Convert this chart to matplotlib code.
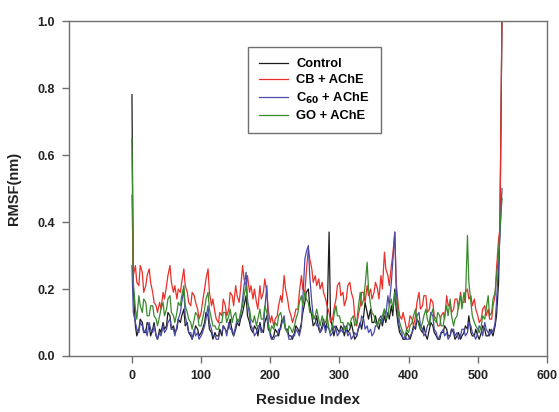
import numpy as np
import matplotlib
matplotlib.use("Agg")
import matplotlib.pyplot as plt

plt.rcParams['font.family'] = ['Liberation Sans', 'DejaVu Sans']

# residue numbers: 0, 2, 5, 7, 10, 12, ... 532, 535
residue = sorted(list(range(0, 540, 5)) + list(range(2, 535, 5)))

control = [0.78, 0.20, 0.09, 0.06, 0.08, 0.11, 0.10, 0.07, 0.07, 0.10,
           0.09, 0.06, 0.08, 0.10, 0.06, 0.05, 0.08, 0.07, 0.10, 0.08,
           0.09, 0.13, 0.12, 0.08, 0.09, 0.07, 0.08, 0.11, 0.10, 0.12,
           0.14, 0.09, 0.10, 0.07, 0.06, 0.05, 0.07, 0.09, 0.08, 0.06,
           0.07, 0.08, 0.10, 0.13, 0.12, 0.08, 0.07, 0.05, 0.07, 0.06,
           0.06, 0.08, 0.06, 0.09, 0.08, 0.07, 0.09, 0.11, 0.07, 0.06,
           0.08, 0.10, 0.09, 0.11, 0.13, 0.15, 0.18, 0.12, 0.10, 0.08,
           0.07, 0.09, 0.08, 0.06, 0.10, 0.08, 0.07, 0.10, 0.12, 0.08,
           0.07, 0.05, 0.06, 0.08, 0.07, 0.06, 0.09, 0.11, 0.10, 0.08,
           0.08, 0.06, 0.06, 0.05, 0.07, 0.09, 0.08, 0.07, 0.10, 0.13,
           0.16, 0.19, 0.20, 0.15, 0.12, 0.09, 0.10, 0.12, 0.08, 0.07,
           0.09, 0.11, 0.08, 0.10, 0.37, 0.12, 0.08, 0.06, 0.09, 0.08,
           0.07, 0.09, 0.08, 0.06, 0.09, 0.07, 0.08, 0.10, 0.07, 0.05,
           0.06, 0.08, 0.10, 0.08, 0.12, 0.16, 0.13, 0.11, 0.14, 0.10,
           0.10, 0.12, 0.09, 0.08, 0.11, 0.09, 0.12, 0.10, 0.13, 0.11,
           0.15, 0.12, 0.20, 0.14, 0.09, 0.07, 0.06, 0.05, 0.05, 0.07,
           0.06, 0.05, 0.07, 0.09, 0.08, 0.11, 0.10, 0.08, 0.07, 0.09,
           0.06, 0.05, 0.08, 0.10, 0.09, 0.07, 0.06, 0.05, 0.05, 0.07,
           0.07, 0.09, 0.08, 0.06, 0.06, 0.08, 0.07, 0.05, 0.06, 0.07,
           0.05, 0.06, 0.07, 0.09, 0.08, 0.12, 0.07, 0.06, 0.06, 0.08,
           0.06, 0.05, 0.07, 0.09, 0.08, 0.06, 0.06, 0.08, 0.07, 0.06,
           0.09, 0.12, 0.22, 0.40, 1.02]

cb_ache = [0.48, 0.24, 0.27, 0.22, 0.21, 0.27, 0.25, 0.19, 0.21, 0.24,
           0.26, 0.22, 0.19, 0.16, 0.15, 0.13, 0.16, 0.14, 0.19, 0.17,
           0.21, 0.24, 0.27, 0.22, 0.19, 0.21, 0.17, 0.20, 0.19, 0.22,
           0.26, 0.21, 0.19, 0.16, 0.15, 0.19, 0.18, 0.16, 0.14, 0.11,
           0.13, 0.16, 0.20, 0.23, 0.26, 0.19, 0.15, 0.17, 0.13, 0.11,
           0.10, 0.13, 0.12, 0.17, 0.15, 0.12, 0.14, 0.19, 0.18, 0.15,
           0.21, 0.18, 0.16, 0.20, 0.27, 0.23, 0.21, 0.24, 0.19, 0.21,
           0.17, 0.20, 0.16, 0.14, 0.21, 0.17, 0.19, 0.23, 0.19, 0.14,
           0.10, 0.12, 0.09, 0.11, 0.12, 0.15, 0.18, 0.16, 0.24, 0.20,
           0.17, 0.14, 0.12, 0.10, 0.12, 0.14, 0.14, 0.19, 0.24, 0.20,
           0.19, 0.25, 0.32, 0.29, 0.26, 0.22, 0.24, 0.21, 0.23, 0.20,
           0.22, 0.19, 0.17, 0.15, 0.13, 0.10, 0.11, 0.14, 0.17, 0.21,
           0.22, 0.18, 0.19, 0.15, 0.17, 0.21, 0.22, 0.19, 0.17, 0.12,
           0.09, 0.12, 0.15, 0.19, 0.19, 0.16, 0.21, 0.18, 0.20, 0.17,
           0.19, 0.22, 0.20, 0.17, 0.24, 0.20, 0.31, 0.26, 0.24, 0.21,
           0.27, 0.30, 0.37, 0.22, 0.15, 0.12, 0.11, 0.13, 0.10, 0.08,
           0.09, 0.12, 0.11, 0.09, 0.12, 0.16, 0.19, 0.14, 0.15, 0.18,
           0.18, 0.13, 0.14, 0.17, 0.16, 0.12, 0.11, 0.09, 0.09, 0.12,
           0.13, 0.11, 0.18, 0.15, 0.16, 0.13, 0.14, 0.17, 0.17, 0.14,
           0.19, 0.16, 0.16, 0.19, 0.20, 0.17, 0.18, 0.15, 0.17, 0.14,
           0.12, 0.10, 0.11, 0.14, 0.15, 0.12, 0.14, 0.11, 0.11, 0.15,
           0.18, 0.26, 0.35, 0.38, 1.05]

c60_ache = [0.27, 0.13, 0.10, 0.08, 0.07, 0.10, 0.09, 0.07, 0.08, 0.06,
            0.10, 0.08, 0.07, 0.09, 0.06, 0.05, 0.07, 0.06, 0.09, 0.07,
            0.08, 0.10, 0.11, 0.08, 0.08, 0.06, 0.09, 0.11, 0.13, 0.16,
            0.20, 0.12, 0.09, 0.07, 0.07, 0.05, 0.08, 0.06, 0.07, 0.05,
            0.06, 0.07, 0.09, 0.11, 0.15, 0.10, 0.08, 0.06, 0.06, 0.05,
            0.05, 0.07, 0.07, 0.09, 0.08, 0.06, 0.10, 0.08, 0.08, 0.06,
            0.09, 0.11, 0.10, 0.12, 0.17, 0.21, 0.25, 0.17, 0.12, 0.09,
            0.08, 0.06, 0.07, 0.09, 0.09, 0.07, 0.08, 0.14, 0.21, 0.10,
            0.06, 0.05, 0.05, 0.06, 0.06, 0.08, 0.08, 0.10, 0.12, 0.08,
            0.07, 0.05, 0.05, 0.06, 0.06, 0.08, 0.07, 0.06, 0.09, 0.17,
            0.29, 0.31, 0.33, 0.24, 0.16, 0.12, 0.11, 0.09, 0.09, 0.07,
            0.08, 0.10, 0.07, 0.09, 0.08, 0.06, 0.07, 0.09, 0.08, 0.06,
            0.07, 0.08, 0.07, 0.09, 0.08, 0.06, 0.07, 0.05, 0.06, 0.07,
            0.06, 0.08, 0.09, 0.12, 0.11, 0.08, 0.09, 0.07, 0.08, 0.06,
            0.07, 0.09, 0.09, 0.11, 0.12, 0.10, 0.14, 0.12, 0.18, 0.15,
            0.22, 0.28, 0.37, 0.20, 0.11, 0.08, 0.07, 0.05, 0.06, 0.05,
            0.05, 0.06, 0.07, 0.08, 0.09, 0.12, 0.13, 0.09, 0.08, 0.06,
            0.07, 0.09, 0.10, 0.13, 0.12, 0.08, 0.07, 0.05, 0.06, 0.07,
            0.08, 0.06, 0.07, 0.05, 0.06, 0.08, 0.08, 0.06, 0.07, 0.05,
            0.06, 0.08, 0.08, 0.06, 0.07, 0.10, 0.09, 0.07, 0.06, 0.05,
            0.07, 0.09, 0.08, 0.06, 0.10, 0.08, 0.07, 0.06, 0.08, 0.07,
            0.10, 0.16, 0.28, 0.36, 0.50]

go_ache = [0.65, 0.22, 0.14, 0.11, 0.18, 0.15, 0.13, 0.17, 0.16, 0.12,
           0.12, 0.15, 0.15, 0.12, 0.11, 0.09, 0.12, 0.14, 0.16, 0.12,
           0.14, 0.17, 0.18, 0.13, 0.12, 0.10, 0.13, 0.16, 0.15, 0.18,
           0.21, 0.15, 0.13, 0.11, 0.10, 0.08, 0.11, 0.13, 0.12, 0.09,
           0.09, 0.11, 0.14, 0.17, 0.19, 0.14, 0.11, 0.09, 0.09, 0.08,
           0.08, 0.10, 0.10, 0.13, 0.13, 0.10, 0.12, 0.14, 0.10, 0.12,
           0.13, 0.10, 0.11, 0.13, 0.15, 0.18, 0.21, 0.16, 0.14, 0.11,
           0.10, 0.12, 0.09, 0.11, 0.14, 0.11, 0.11, 0.15, 0.13, 0.09,
           0.07, 0.09, 0.08, 0.10, 0.09, 0.12, 0.13, 0.11, 0.10, 0.08,
           0.07, 0.09, 0.08, 0.07, 0.09, 0.11, 0.13, 0.16, 0.18, 0.15,
           0.19, 0.17, 0.16, 0.13, 0.13, 0.11, 0.12, 0.14, 0.11, 0.09,
           0.12, 0.10, 0.10, 0.12, 0.08, 0.07, 0.09, 0.12, 0.15, 0.12,
           0.12, 0.10, 0.10, 0.08, 0.08, 0.10, 0.09, 0.11, 0.12, 0.09,
           0.10, 0.14, 0.19, 0.15, 0.17, 0.21, 0.28, 0.20, 0.15, 0.13,
           0.12, 0.10, 0.09, 0.11, 0.10, 0.12, 0.14, 0.11, 0.12, 0.15,
           0.17, 0.14, 0.19, 0.16, 0.13, 0.10, 0.08, 0.07, 0.06, 0.08,
           0.07, 0.09, 0.10, 0.12, 0.14, 0.11, 0.09, 0.08, 0.10, 0.12,
           0.14, 0.11, 0.09, 0.12, 0.14, 0.11, 0.10, 0.13, 0.12, 0.09,
           0.09, 0.12, 0.15, 0.12, 0.17, 0.12, 0.09, 0.11, 0.12, 0.15,
           0.18, 0.14, 0.19, 0.16, 0.36, 0.22, 0.16, 0.12, 0.10, 0.09,
           0.08, 0.07, 0.09, 0.12, 0.11, 0.14, 0.18, 0.12, 0.13, 0.17,
           0.19, 0.24, 0.30, 0.38, 0.47]

series_labels = ["Control", "CB + AChE", r"C$_{\mathbf{60}}$ + AChE", "GO + AChE"]
colors = ["#1c1c1c", "#e8302a", "#4a4aa8", "#3a8a2e"]

fig = plt.figure(figsize=(5.59, 4.12), dpi=100)
ax = fig.add_axes([69/559, 56/412, 478/559, 335/412])

for vals, lab, col in zip([control, cb_ache, c60_ache, go_ache], series_labels, colors):
    ax.plot(residue, vals, color=col, lw=0.9, label=lab)

ax.set_xlim(-91, 600)
ax.set_ylim(0, 1.0)
ax.set_xticks([0, 100, 200, 300, 400, 500, 600])
ax.set_yticks([0.0, 0.2, 0.4, 0.6, 0.8, 1.0])
ax.set_yticklabels(["0.0", "0.2", "0.4", "0.6", "0.8", "1.0"])

for s in ax.spines.values():
    s.set_color("#707070")
    s.set_linewidth(1.0)
ax.tick_params(direction="out", length=5, width=1, color="#707070",
               labelsize=9, pad=5)
for t in ax.get_xticklabels() + ax.get_yticklabels():
    t.set_fontweight("bold")
    t.set_color("#222222")

ax.set_xlabel("Residue Index", fontsize=11, fontweight="bold", labelpad=8, color="#222222")
ax.set_ylabel("RMSF(nm)", fontsize=10.5, fontweight="bold", labelpad=12, color="#222222")

leg = ax.legend(loc="upper left", bbox_to_anchor=(0.3745, 0.922), borderaxespad=0,
                fancybox=False, edgecolor="#707070", framealpha=1,
                prop={"weight": "bold", "size": 9.3}, handlelength=2.25,
                borderpad=0.85, labelspacing=0.33, handletextpad=0.65)
leg.get_frame().set_linewidth(1.0)
for line in leg.get_lines():
    line.set_linewidth(0.9)

fig.savefig("out.png", dpi=100)
